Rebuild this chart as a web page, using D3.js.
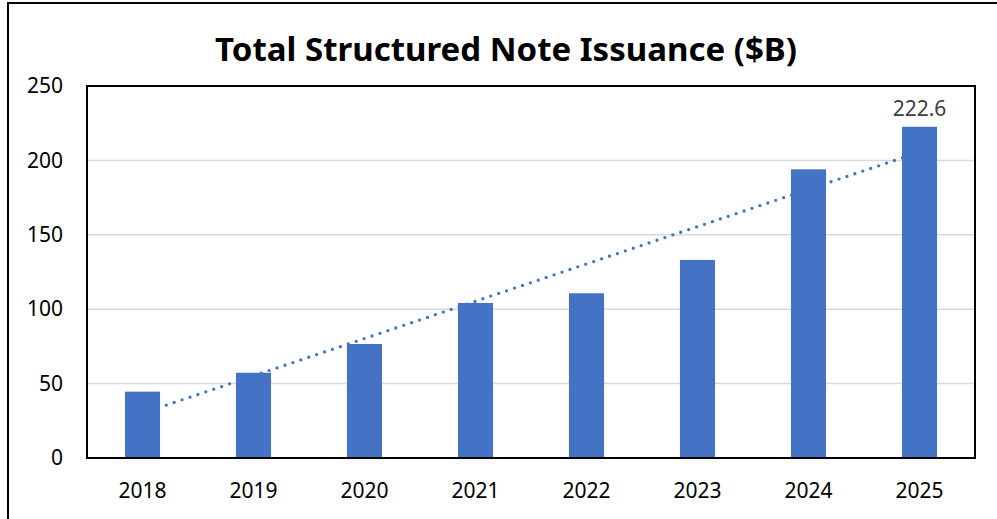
<!DOCTYPE html>
<html>
<head>
<meta charset="utf-8">
<script src="https://cdn.jsdelivr.net/npm/d3@7"></script>
<style>
  html, body { margin: 0; padding: 0; background: #fff; }
  svg { display: block; }
</style>
</head>
<body>
<svg id="chart" width="997" height="519"></svg>
<script>
// Annual structured note issuance, $ billions
const years = ["2018", "2019", "2020", "2021", "2022", "2023", "2024", "2025"];
const issuance = [44.6, 57.3, 76.6, 104.2, 110.7, 133.1, 194.0, 222.6];
const yTicks = [0, 50, 100, 150, 200, 250];
const labelledYear = "2025";
const titleText = "Total Structured Note Issuance ($B)";

const W = 997, H = 519;
const plot = { left: 87, right: 975, top: 86, bottom: 458 };
const font = "'Noto Sans', 'Open Sans', sans-serif";
const labelSize = 21;

const svg = d3.select("#chart");

// outer frame
svg.append("rect")
  .attr("x", 8).attr("y", 3)
  .attr("width", W + 20).attr("height", H + 20)
  .attr("fill", "#fff").attr("stroke", "#000").attr("stroke-width", 2);

const x = d3.scaleBand()
  .domain(years)
  .range([plot.left, plot.right])
  .paddingInner(0.684)
  .paddingOuter(0.342);

const y = d3.scaleLinear()
  .domain([0, 250])
  .range([plot.bottom, plot.top]);

// gridlines
svg.append("g")
  .selectAll("line")
  .data(yTicks.filter(t => t > 0 && t < 250))
  .join("line")
  .attr("x1", plot.left).attr("x2", plot.right)
  .attr("y1", d => y(d)).attr("y2", d => y(d))
  .attr("stroke", "#d9d9d9").attr("stroke-width", 1.5);

// linear trendline (least squares over the year index), drawn beneath bars
const n = issuance.length;
const xs = d3.range(n);
const mx = d3.mean(xs), my = d3.mean(issuance);
const slope = d3.sum(xs, i => (i - mx) * (issuance[i] - my)) / d3.sum(xs, i => (i - mx) ** 2);
const intercept = my - slope * mx;
const cx = i => x(years[i]) + x.bandwidth() / 2;

svg.append("line")
  .attr("x1", cx(0)).attr("y1", y(intercept))
  .attr("x2", cx(n - 1)).attr("y2", y(intercept + slope * (n - 1)))
  .attr("stroke", "#4472c4").attr("stroke-width", 3.3)
  .attr("stroke-linecap", "round")
  .attr("stroke-dasharray", "0 8.35");

// bars
svg.append("g")
  .selectAll("rect")
  .data(years.map((yr, i) => ({ yr, v: issuance[i] })))
  .join("rect")
  .attr("x", d => x(d.yr))
  .attr("y", d => y(d.v))
  .attr("width", x.bandwidth())
  .attr("height", d => y(0) - y(d.v))
  .attr("fill", "#4472c4");

// plot area border
svg.append("rect")
  .attr("x", plot.left).attr("y", plot.top)
  .attr("width", plot.right - plot.left).attr("height", plot.bottom - plot.top)
  .attr("fill", "none").attr("stroke", "#000").attr("stroke-width", 2);

// y axis labels
const yAxis = d3.axisLeft(y).tickValues(yTicks).tickSize(0).tickPadding(24);
const gy = svg.append("g").attr("transform", `translate(${plot.left},0)`).call(yAxis);
gy.select(".domain").remove();
gy.selectAll("text")
  .attr("font-family", font).attr("font-size", labelSize).attr("fill", "#000");

// x axis labels
const xAxis = d3.axisBottom(x).tickSize(0).tickPadding(25);
const gx = svg.append("g").attr("transform", `translate(0,${plot.bottom})`).call(xAxis);
gx.select(".domain").remove();
gx.selectAll("text")
  .attr("font-family", font).attr("font-size", labelSize).attr("fill", "#000");

// value label
const li = years.indexOf(labelledYear);
svg.append("text")
  .attr("x", cx(li)).attr("y", y(issuance[li]) - 11)
  .attr("text-anchor", "middle")
  .attr("font-family", font).attr("font-size", labelSize).attr("fill", "#404040")
  .text(issuance[li].toFixed(1));

// title
svg.append("text")
  .attr("x", 506).attr("y", 61)
  .attr("text-anchor", "middle")
  .attr("font-family", font).attr("font-weight", 700).attr("font-size", 33)
  .attr("fill", "#000")
  .text(titleText);
</script>
</body>
</html>
